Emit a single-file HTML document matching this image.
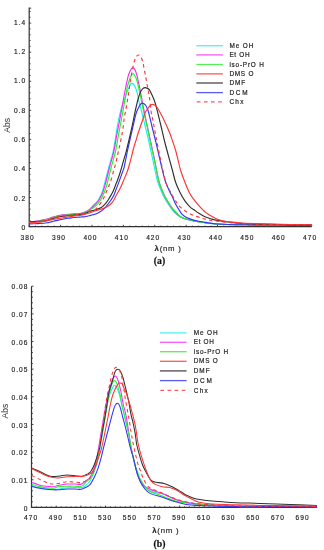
<!DOCTYPE html>
<html><head><meta charset="utf-8"><title>UV-Vis spectra</title>
<style>
html,body{margin:0;padding:0;background:#fff;}
body{width:324px;height:550px;overflow:hidden;}
svg{display:block;}
.tl{font-family:'Liberation Sans',Arial,sans-serif;font-size:7px;letter-spacing:0.7px;fill:#222;stroke:#222;stroke-width:0.2px;}
.tn{font-family:'Liberation Sans',Arial,sans-serif;font-size:7.5px;letter-spacing:1.14px;fill:#222;stroke:#222;stroke-width:0.18px;}
.tx{font-family:'Liberation Sans',Arial,sans-serif;font-size:7.8px;letter-spacing:0.75px;fill:#222;stroke:#222;stroke-width:0.15px;}
.lg{font-family:'Liberation Sans',Arial,sans-serif;font-size:7px;font-size:7.3px;fill:#222;stroke:#222;stroke-width:0.2px;}
.abs{font-family:'Liberation Sans',Arial,sans-serif;font-size:8.6px;fill:#333;}
.cap{font-family:'Liberation Serif','Times New Roman',serif;font-size:9.7px;font-weight:bold;fill:#111;stroke:#111;stroke-width:0.2px;}
.ax{fill:none;stroke:#333;stroke-width:1.2;}
.tk{fill:none;stroke:#333;stroke-width:0.9;}
</style></head><body>
<svg width="324" height="550" viewBox="0 0 324 550">
<rect width="324" height="550" fill="#fff"/>
<path d="M29.2,7.6 V226.6 H311.7" class="ax"/>
<path d="M29.2,226.60 h2.0 M29.2,197.53 h2.0 M29.2,168.46 h2.0 M29.2,139.39 h2.0 M29.2,110.32 h2.0 M29.2,81.25 h2.0 M29.2,52.18 h2.0 M29.2,23.11 h2.0 M29.2,8.20 h2.0 M29.2,220.79 h1.4 M29.2,214.97 h1.4 M29.2,209.16 h1.4 M29.2,203.34 h1.4 M29.2,191.72 h1.4 M29.2,185.90 h1.4 M29.2,180.09 h1.4 M29.2,174.27 h1.4 M29.2,162.65 h1.4 M29.2,156.83 h1.4 M29.2,151.02 h1.4 M29.2,145.20 h1.4 M29.2,133.58 h1.4 M29.2,127.76 h1.4 M29.2,121.95 h1.4 M29.2,116.13 h1.4 M29.2,104.51 h1.4 M29.2,98.69 h1.4 M29.2,92.88 h1.4 M29.2,87.06 h1.4 M29.2,75.44 h1.4 M29.2,69.62 h1.4 M29.2,63.81 h1.4 M29.2,57.99 h1.4 M29.2,46.37 h1.4 M29.2,40.55 h1.4 M29.2,34.74 h1.4 M29.2,28.92 h1.4 M29.2,17.30 h1.4 M29.2,11.48 h1.4 M29.20,226.6 v-1.8 M60.59,226.6 v-1.8 M91.98,226.6 v-1.8 M123.37,226.6 v-1.8 M154.76,226.6 v-1.8 M186.14,226.6 v-1.8 M217.53,226.6 v-1.8 M248.92,226.6 v-1.8 M280.31,226.6 v-1.8 M311.70,226.6 v-1.8 M35.48,226.6 v-1.0 M41.76,226.6 v-1.0 M48.03,226.6 v-1.0 M54.31,226.6 v-1.0 M66.87,226.6 v-1.0 M73.14,226.6 v-1.0 M79.42,226.6 v-1.0 M85.70,226.6 v-1.0 M98.26,226.6 v-1.0 M104.53,226.6 v-1.0 M110.81,226.6 v-1.0 M117.09,226.6 v-1.0 M129.64,226.6 v-1.0 M135.92,226.6 v-1.0 M142.20,226.6 v-1.0 M148.48,226.6 v-1.0 M161.03,226.6 v-1.0 M167.31,226.6 v-1.0 M173.59,226.6 v-1.0 M179.87,226.6 v-1.0 M192.42,226.6 v-1.0 M198.70,226.6 v-1.0 M204.98,226.6 v-1.0 M211.26,226.6 v-1.0 M223.81,226.6 v-1.0 M230.09,226.6 v-1.0 M236.37,226.6 v-1.0 M242.64,226.6 v-1.0 M255.20,226.6 v-1.0 M261.48,226.6 v-1.0 M267.76,226.6 v-1.0 M274.03,226.6 v-1.0 M286.59,226.6 v-1.0 M292.87,226.6 v-1.0 M299.14,226.6 v-1.0 M305.42,226.6 v-1.0" class="tk"/>
<text transform="translate(26.1,230.0) scale(0.88,1)" class="tn" text-anchor="end">0</text>
<text transform="translate(26.1,200.6) scale(0.88,1)" class="tn" text-anchor="end">0.2</text>
<text transform="translate(26.1,171.3) scale(0.88,1)" class="tn" text-anchor="end">0.4</text>
<text transform="translate(26.1,141.9) scale(0.88,1)" class="tn" text-anchor="end">0.6</text>
<text transform="translate(26.1,112.6) scale(0.88,1)" class="tn" text-anchor="end">0.8</text>
<text transform="translate(26.1,83.2) scale(0.88,1)" class="tn" text-anchor="end">1.0</text>
<text transform="translate(26.1,53.8) scale(0.88,1)" class="tn" text-anchor="end">1.2</text>
<text transform="translate(26.1,24.5) scale(0.88,1)" class="tn" text-anchor="end">1.4</text>
<text transform="translate(27.6,239.5) scale(0.88,1)" class="tn" text-anchor="middle">380</text>
<text transform="translate(59.0,239.5) scale(0.88,1)" class="tn" text-anchor="middle">390</text>
<text transform="translate(90.4,239.5) scale(0.88,1)" class="tn" text-anchor="middle">400</text>
<text transform="translate(121.8,239.5) scale(0.88,1)" class="tn" text-anchor="middle">410</text>
<text transform="translate(153.2,239.5) scale(0.88,1)" class="tn" text-anchor="middle">420</text>
<text transform="translate(184.5,239.5) scale(0.88,1)" class="tn" text-anchor="middle">430</text>
<text transform="translate(215.9,239.5) scale(0.88,1)" class="tn" text-anchor="middle">440</text>
<text transform="translate(247.3,239.5) scale(0.88,1)" class="tn" text-anchor="middle">450</text>
<text transform="translate(278.7,239.5) scale(0.88,1)" class="tn" text-anchor="middle">460</text>
<text transform="translate(310.1,239.5) scale(0.88,1)" class="tn" text-anchor="middle">470</text>
<text transform="translate(9.9,125.3) rotate(-90)" class="abs" text-anchor="middle">Abs</text>
<text x="154.6" y="251.0" class="tx"><tspan font-weight="bold">λ</tspan>(nm )</text>
<text x="159.5" y="264.1" class="cap" text-anchor="middle">(a)</text>
<line x1="196.3" y1="45.7" x2="222.9" y2="45.7" stroke="#50f0f0" stroke-width="1.3"/>
<text transform="translate(229.4,47.8) scale(0.88,1)" class="lg" textLength="27.16" lengthAdjust="spacing">Me OH</text>
<line x1="196.3" y1="54.9" x2="222.9" y2="54.9" stroke="#f858f8" stroke-width="1.3"/>
<text transform="translate(229.4,57.0) scale(0.88,1)" class="lg" textLength="22.95" lengthAdjust="spacing">Et OH</text>
<line x1="196.3" y1="64.5" x2="222.9" y2="64.5" stroke="#58ee58" stroke-width="1.3"/>
<text transform="translate(229.4,66.6) scale(0.88,1)" class="lg" textLength="39.09" lengthAdjust="spacing">iso-PrO H</text>
<line x1="196.3" y1="73.9" x2="222.9" y2="73.9" stroke="#f85c5c" stroke-width="1.3"/>
<text transform="translate(229.4,76.0) scale(0.88,1)" class="lg" textLength="27.27" lengthAdjust="spacing">DMS O</text>
<line x1="196.3" y1="83.0" x2="222.9" y2="83.0" stroke="#4a4a4a" stroke-width="1.3"/>
<text transform="translate(229.4,85.1) scale(0.88,1)" class="lg" textLength="18.07" lengthAdjust="spacing">DMF</text>
<line x1="196.3" y1="92.6" x2="222.9" y2="92.6" stroke="#5a5af4" stroke-width="1.3"/>
<text transform="translate(229.4,94.7) scale(0.88,1)" class="lg" textLength="20.68" lengthAdjust="spacing">DCM</text>
<line x1="196.8" y1="101.8" x2="222.9" y2="101.8" stroke="#f85c5c" stroke-width="1.3" stroke-dasharray="3.7,3.4"/>
<text transform="translate(229.4,103.9) scale(0.88,1)" class="lg" textLength="16.02" lengthAdjust="spacing">Chx</text>
<g fill="none" stroke-width="1.15"><path d="M29.20,222.30 C30.67,222.13 35.53,221.68 38.00,221.30 C40.47,220.92 42.33,220.35 44.00,220.00 C45.67,219.65 46.67,219.57 48.00,219.20 C49.33,218.83 50.67,218.23 52.00,217.80 C53.33,217.37 54.67,216.95 56.00,216.60 C57.33,216.25 58.67,215.95 60.00,215.70 C61.33,215.45 62.67,215.28 64.00,215.10 C65.33,214.92 66.67,214.73 68.00,214.60 C69.33,214.47 70.50,214.40 72.00,214.30 C73.50,214.20 75.50,214.12 77.00,214.00 C78.50,213.88 79.67,213.90 81.00,213.60 C82.33,213.30 83.62,212.80 85.00,212.20 C86.38,211.60 87.80,211.30 89.30,210.00 C90.80,208.70 92.53,206.02 94.00,204.40 C95.47,202.78 96.75,202.33 98.10,200.30 C99.45,198.27 100.98,195.17 102.10,192.20 C103.22,189.23 103.67,186.70 104.80,182.50 C105.93,178.30 107.53,172.08 108.90,167.00 C110.27,161.92 111.85,157.17 113.00,152.00 C114.15,146.83 114.88,141.33 115.80,136.00 C116.72,130.67 117.55,124.67 118.50,120.00 C119.45,115.33 120.50,111.42 121.50,108.00 C122.50,104.58 123.55,102.25 124.50,99.50 C125.45,96.75 126.38,93.67 127.20,91.50 C128.02,89.33 128.73,87.87 129.40,86.50 C130.07,85.13 130.57,83.72 131.20,83.30 C131.83,82.88 132.58,83.45 133.20,84.00 C133.82,84.55 134.27,85.27 134.90,86.60 C135.53,87.93 136.38,89.77 137.00,92.00 C137.62,94.23 138.10,97.67 138.60,100.00 C139.10,102.33 139.52,104.17 140.00,106.00 C140.48,107.83 140.67,107.75 141.50,111.00 C142.33,114.25 143.83,120.67 145.00,125.50 C146.17,130.33 147.33,134.92 148.50,140.00 C149.67,145.08 150.85,150.67 152.00,156.00 C153.15,161.33 154.48,167.83 155.40,172.00 C156.32,176.17 156.70,178.25 157.50,181.00 C158.30,183.75 159.20,186.00 160.20,188.50 C161.20,191.00 162.37,193.72 163.50,196.00 C164.63,198.28 165.92,200.43 167.00,202.20 C168.08,203.97 168.80,204.97 170.00,206.60 C171.20,208.23 172.48,210.27 174.20,212.00 C175.92,213.73 178.33,215.80 180.30,217.00 C182.27,218.20 183.93,218.58 186.00,219.20 C188.07,219.82 189.53,220.10 192.70,220.70 C195.87,221.30 200.90,222.23 205.00,222.80 C209.10,223.37 210.63,223.77 217.30,224.10 C223.97,224.43 234.55,224.65 245.00,224.80 C255.45,224.95 268.88,224.93 280.00,225.00 C291.12,225.07 306.42,225.17 311.70,225.20" stroke="#18f0f0"/>
<path d="M29.20,222.00 C30.67,221.80 35.53,221.20 38.00,220.80 C40.47,220.40 42.33,219.93 44.00,219.60 C45.67,219.27 46.67,219.17 48.00,218.80 C49.33,218.43 50.67,217.82 52.00,217.40 C53.33,216.98 54.67,216.63 56.00,216.30 C57.33,215.97 58.67,215.65 60.00,215.40 C61.33,215.15 62.67,214.98 64.00,214.80 C65.33,214.62 66.67,214.43 68.00,214.30 C69.33,214.17 70.50,214.10 72.00,214.00 C73.50,213.90 75.50,213.80 77.00,213.70 C78.50,213.60 79.67,213.68 81.00,213.40 C82.33,213.12 83.62,212.62 85.00,212.00 C86.38,211.38 87.68,210.87 89.30,209.70 C90.92,208.53 93.12,206.57 94.70,205.00 C96.28,203.43 97.45,202.43 98.80,200.30 C100.15,198.17 101.67,195.08 102.80,192.20 C103.93,189.32 104.47,187.20 105.60,183.00 C106.73,178.80 108.25,172.17 109.60,167.00 C110.95,161.83 112.53,157.17 113.70,152.00 C114.87,146.83 115.60,141.33 116.60,136.00 C117.60,130.67 118.70,125.33 119.70,120.00 C120.70,114.67 121.62,109.33 122.60,104.00 C123.58,98.67 124.67,92.65 125.60,88.00 C126.53,83.35 127.38,79.05 128.20,76.10 C129.02,73.15 129.70,71.72 130.50,70.30 C131.30,68.88 132.20,67.55 133.00,67.60 C133.80,67.65 134.62,69.18 135.30,70.60 C135.98,72.02 136.58,74.20 137.10,76.10 C137.62,78.00 137.93,79.85 138.40,82.00 C138.87,84.15 139.40,86.53 139.90,89.00 C140.40,91.47 140.78,93.52 141.40,96.80 C142.02,100.08 142.63,103.92 143.60,108.70 C144.57,113.48 146.00,119.95 147.20,125.50 C148.40,131.05 149.67,136.75 150.80,142.00 C151.93,147.25 152.98,152.00 154.00,157.00 C155.02,162.00 156.10,168.00 156.90,172.00 C157.70,176.00 158.05,178.25 158.80,181.00 C159.55,183.75 160.45,186.00 161.40,188.50 C162.35,191.00 163.43,193.78 164.50,196.00 C165.57,198.22 166.80,200.13 167.80,201.80 C168.80,203.47 169.37,204.38 170.50,206.00 C171.63,207.62 172.97,209.72 174.60,211.50 C176.23,213.28 178.40,215.45 180.30,216.70 C182.20,217.95 183.93,218.35 186.00,219.00 C188.07,219.65 189.53,219.98 192.70,220.60 C195.87,221.22 200.90,222.13 205.00,222.70 C209.10,223.27 210.63,223.65 217.30,224.00 C223.97,224.35 234.55,224.63 245.00,224.80 C255.45,224.97 268.88,224.93 280.00,225.00 C291.12,225.07 306.42,225.17 311.70,225.20" stroke="#f828f8"/>
<path d="M29.20,222.30 C30.67,222.17 35.53,221.85 38.00,221.50 C40.47,221.15 42.33,220.55 44.00,220.20 C45.67,219.85 46.67,219.77 48.00,219.40 C49.33,219.03 50.67,218.42 52.00,218.00 C53.33,217.58 54.67,217.23 56.00,216.90 C57.33,216.57 58.67,216.25 60.00,216.00 C61.33,215.75 62.67,215.58 64.00,215.40 C65.33,215.22 66.67,215.03 68.00,214.90 C69.33,214.77 70.50,214.72 72.00,214.60 C73.50,214.48 75.50,214.33 77.00,214.20 C78.50,214.07 79.67,214.08 81.00,213.80 C82.33,213.52 83.62,213.05 85.00,212.50 C86.38,211.95 87.97,211.27 89.30,210.50 C90.63,209.73 91.98,208.58 93.00,207.90 C94.02,207.22 94.10,207.77 95.40,206.40 C96.70,205.03 99.22,202.30 100.80,199.70 C102.38,197.10 103.82,193.58 104.90,190.80 C105.98,188.02 106.23,186.97 107.30,183.00 C108.37,179.03 109.95,172.17 111.30,167.00 C112.65,161.83 114.23,157.17 115.40,152.00 C116.57,146.83 117.32,141.33 118.30,136.00 C119.28,130.67 120.32,125.33 121.30,120.00 C122.28,114.67 123.23,109.33 124.20,104.00 C125.17,98.67 126.32,91.75 127.10,88.00 C127.88,84.25 128.28,83.40 128.90,81.50 C129.52,79.60 130.12,77.90 130.80,76.60 C131.48,75.30 132.25,73.72 133.00,73.70 C133.75,73.68 134.58,75.12 135.30,76.50 C136.02,77.88 136.68,79.92 137.30,82.00 C137.92,84.08 138.43,86.53 139.00,89.00 C139.57,91.47 139.93,93.05 140.70,96.80 C141.47,100.55 142.55,106.63 143.60,111.50 C144.65,116.37 145.92,121.08 147.00,126.00 C148.08,130.92 149.02,135.92 150.10,141.00 C151.18,146.08 152.37,151.33 153.50,156.50 C154.63,161.67 156.02,167.92 156.90,172.00 C157.78,176.08 158.05,178.25 158.80,181.00 C159.55,183.75 160.45,186.08 161.40,188.50 C162.35,190.92 163.47,193.43 164.50,195.50 C165.53,197.57 166.60,199.23 167.60,200.90 C168.60,202.57 169.37,203.90 170.50,205.50 C171.63,207.10 172.77,208.67 174.40,210.50 C176.03,212.33 178.37,215.08 180.30,216.50 C182.23,217.92 183.93,218.32 186.00,219.00 C188.07,219.68 189.53,219.98 192.70,220.60 C195.87,221.22 200.90,222.13 205.00,222.70 C209.10,223.27 210.63,223.65 217.30,224.00 C223.97,224.35 234.55,224.63 245.00,224.80 C255.45,224.97 268.88,224.93 280.00,225.00 C291.12,225.07 306.42,225.17 311.70,225.20" stroke="#28f028"/>
<path d="M29.20,223.90 C30.67,223.85 35.53,223.70 38.00,223.60 C40.47,223.50 42.33,223.47 44.00,223.30 C45.67,223.13 46.67,222.88 48.00,222.60 C49.33,222.32 50.67,221.93 52.00,221.60 C53.33,221.27 54.67,220.90 56.00,220.60 C57.33,220.30 58.67,220.07 60.00,219.80 C61.33,219.53 62.67,219.25 64.00,219.00 C65.33,218.75 66.67,218.50 68.00,218.30 C69.33,218.10 70.50,217.97 72.00,217.80 C73.50,217.63 75.50,217.43 77.00,217.30 C78.50,217.17 79.67,217.10 81.00,217.00 C82.33,216.90 83.62,216.92 85.00,216.70 C86.38,216.48 87.97,216.02 89.30,215.70 C90.63,215.38 91.63,215.22 93.00,214.80 C94.37,214.38 95.97,213.93 97.50,213.20 C99.03,212.47 100.75,211.55 102.20,210.40 C103.65,209.25 104.85,207.87 106.20,206.30 C107.55,204.73 109.05,202.78 110.30,201.00 C111.55,199.22 112.72,197.60 113.70,195.60 C114.68,193.60 115.40,191.08 116.20,189.00 C117.00,186.92 117.45,185.93 118.50,183.10 C119.55,180.27 121.55,174.72 122.50,172.00 C123.45,169.28 123.38,170.28 124.20,166.80 C125.02,163.32 126.32,156.15 127.40,151.10 C128.48,146.05 129.57,141.52 130.70,136.50 C131.83,131.48 133.28,124.90 134.20,121.00 C135.12,117.10 135.50,115.28 136.20,113.10 C136.90,110.92 137.73,109.32 138.40,107.90 C139.07,106.48 139.58,105.40 140.20,104.60 C140.82,103.80 141.47,103.23 142.10,103.10 C142.73,102.97 143.37,103.37 144.00,103.80 C144.63,104.23 145.32,104.83 145.90,105.70 C146.48,106.57 147.02,107.77 147.50,109.00 C147.98,110.23 148.05,110.18 148.80,113.10 C149.55,116.02 150.87,121.85 152.00,126.50 C153.13,131.15 154.40,136.00 155.60,141.00 C156.80,146.00 158.03,151.50 159.20,156.50 C160.37,161.50 161.52,166.70 162.60,171.00 C163.68,175.30 164.47,178.77 165.70,182.30 C166.93,185.83 168.87,189.75 170.00,192.20 C171.13,194.65 171.62,195.12 172.50,197.00 C173.38,198.88 174.27,201.45 175.30,203.50 C176.33,205.55 177.58,207.52 178.70,209.30 C179.82,211.08 180.70,212.82 182.00,214.20 C183.30,215.58 184.83,216.70 186.50,217.60 C188.17,218.50 189.93,218.98 192.00,219.60 C194.07,220.22 196.23,220.78 198.90,221.30 C201.57,221.82 204.93,222.25 208.00,222.70 C211.07,223.15 211.13,223.65 217.30,224.00 C223.47,224.35 234.55,224.63 245.00,224.80 C255.45,224.97 268.88,224.93 280.00,225.00 C291.12,225.07 306.42,225.17 311.70,225.20" stroke="#3434f8"/>
<path d="M29.20,221.50 C30.67,221.50 35.53,221.58 38.00,221.50 C40.47,221.42 42.33,221.22 44.00,221.00 C45.67,220.78 46.67,220.57 48.00,220.20 C49.33,219.83 50.67,219.22 52.00,218.80 C53.33,218.38 54.67,218.03 56.00,217.70 C57.33,217.37 58.67,217.05 60.00,216.80 C61.33,216.55 62.67,216.38 64.00,216.20 C65.33,216.02 66.67,215.85 68.00,215.70 C69.33,215.55 70.50,215.43 72.00,215.30 C73.50,215.17 75.50,215.07 77.00,214.90 C78.50,214.73 79.67,214.55 81.00,214.30 C82.33,214.05 83.62,213.85 85.00,213.40 C86.38,212.95 87.80,212.13 89.30,211.60 C90.80,211.07 92.08,210.83 94.00,210.20 C95.92,209.57 98.88,208.88 100.80,207.80 C102.72,206.72 104.03,205.40 105.50,203.70 C106.97,202.00 108.35,199.63 109.60,197.60 C110.85,195.57 111.98,193.65 113.00,191.50 C114.02,189.35 114.97,186.53 115.70,184.70 C116.43,182.87 116.63,182.62 117.40,180.50 C118.17,178.38 119.25,175.40 120.30,172.00 C121.35,168.60 122.70,163.58 123.70,160.10 C124.70,156.62 125.28,155.03 126.30,151.10 C127.32,147.17 128.65,141.52 129.80,136.50 C130.95,131.48 132.32,125.15 133.20,121.00 C134.08,116.85 134.53,114.27 135.10,111.60 C135.67,108.93 136.10,107.10 136.60,105.00 C137.10,102.90 137.42,101.23 138.10,99.00 C138.78,96.77 139.92,93.33 140.70,91.60 C141.48,89.87 142.07,89.27 142.80,88.60 C143.53,87.93 144.32,87.63 145.10,87.60 C145.88,87.57 146.75,87.98 147.50,88.40 C148.25,88.82 148.77,88.82 149.60,90.10 C150.43,91.38 151.58,94.00 152.50,96.10 C153.42,98.20 154.27,100.12 155.10,102.70 C155.93,105.28 156.52,107.72 157.50,111.60 C158.48,115.48 159.83,121.10 161.00,126.00 C162.17,130.90 163.25,136.00 164.50,141.00 C165.75,146.00 167.15,151.00 168.50,156.00 C169.85,161.00 171.42,166.62 172.60,171.00 C173.78,175.38 174.38,178.77 175.60,182.30 C176.82,185.83 178.35,189.10 179.90,192.20 C181.45,195.30 183.18,198.42 184.90,200.90 C186.62,203.38 188.68,205.62 190.20,207.10 C191.72,208.58 192.55,208.77 194.00,209.80 C195.45,210.83 197.07,212.13 198.90,213.30 C200.73,214.47 202.98,215.88 205.00,216.80 C207.02,217.72 208.95,218.20 211.00,218.80 C213.05,219.40 214.18,219.82 217.30,220.40 C220.42,220.98 225.08,221.78 229.70,222.30 C234.32,222.82 236.62,223.13 245.00,223.50 C253.38,223.87 268.88,224.25 280.00,224.50 C291.12,224.75 306.42,224.92 311.70,225.00" stroke="#303030"/>
<path d="M29.20,222.50 C30.67,222.47 35.53,222.50 38.00,222.30 C40.47,222.10 42.33,221.60 44.00,221.30 C45.67,221.00 46.67,220.78 48.00,220.50 C49.33,220.22 50.67,219.85 52.00,219.60 C53.33,219.35 54.67,219.22 56.00,219.00 C57.33,218.78 58.67,218.53 60.00,218.30 C61.33,218.07 62.67,217.82 64.00,217.60 C65.33,217.38 66.67,217.20 68.00,217.00 C69.33,216.80 70.50,216.62 72.00,216.40 C73.50,216.18 75.50,215.90 77.00,215.70 C78.50,215.50 79.67,215.45 81.00,215.20 C82.33,214.95 83.62,214.57 85.00,214.20 C86.38,213.83 87.80,213.50 89.30,213.00 C90.80,212.50 92.08,211.83 94.00,211.20 C95.92,210.57 98.53,210.00 100.80,209.20 C103.07,208.40 105.68,207.53 107.60,206.40 C109.52,205.27 110.95,204.08 112.30,202.40 C113.65,200.72 114.37,198.70 115.70,196.30 C117.03,193.90 118.97,190.70 120.30,188.00 C121.63,185.30 122.57,182.77 123.70,180.10 C124.83,177.43 126.12,174.68 127.10,172.00 C128.08,169.32 128.55,167.83 129.60,164.00 C130.65,160.17 132.37,152.83 133.40,149.00 C134.43,145.17 135.00,143.67 135.80,141.00 C136.60,138.33 137.07,136.50 138.20,133.00 C139.33,129.50 141.43,123.42 142.60,120.00 C143.77,116.58 144.17,114.63 145.20,112.50 C146.23,110.37 147.87,108.45 148.80,107.20 C149.73,105.95 150.18,105.48 150.80,105.00 C151.42,104.52 151.88,104.30 152.50,104.30 C153.12,104.30 153.88,104.65 154.50,105.00 C155.12,105.35 155.55,105.65 156.20,106.40 C156.85,107.15 157.35,107.73 158.40,109.50 C159.45,111.27 161.15,114.33 162.50,117.00 C163.85,119.67 165.25,122.72 166.50,125.50 C167.75,128.28 169.00,131.12 170.00,133.70 C171.00,136.28 171.58,138.28 172.50,141.00 C173.42,143.72 174.58,146.87 175.50,150.00 C176.42,153.13 177.17,156.47 178.00,159.80 C178.83,163.13 179.35,166.25 180.50,170.00 C181.65,173.75 183.35,178.38 184.90,182.30 C186.45,186.22 188.28,190.62 189.80,193.50 C191.32,196.38 192.63,197.75 194.00,199.60 C195.37,201.45 196.57,202.93 198.00,204.60 C199.43,206.27 201.27,208.27 202.60,209.60 C203.93,210.93 204.57,211.52 206.00,212.60 C207.43,213.68 209.32,215.00 211.20,216.10 C213.08,217.20 215.25,218.38 217.30,219.20 C219.35,220.02 220.40,220.47 223.50,221.00 C226.60,221.53 232.32,222.02 235.90,222.40 C239.48,222.78 237.65,222.98 245.00,223.30 C252.35,223.62 268.88,224.05 280.00,224.30 C291.12,224.55 306.42,224.72 311.70,224.80" stroke="#ff3434"/>
<path d="M29.20,222.00 C30.67,221.97 35.53,222.03 38.00,221.80 C40.47,221.57 42.33,220.93 44.00,220.60 C45.67,220.27 46.67,220.17 48.00,219.80 C49.33,219.43 50.67,218.82 52.00,218.40 C53.33,217.98 54.67,217.63 56.00,217.30 C57.33,216.97 58.67,216.65 60.00,216.40 C61.33,216.15 62.67,215.98 64.00,215.80 C65.33,215.62 66.67,215.43 68.00,215.30 C69.33,215.17 70.50,215.12 72.00,215.00 C73.50,214.88 75.50,214.77 77.00,214.60 C78.50,214.43 79.67,214.27 81.00,214.00 C82.33,213.73 83.62,213.45 85.00,213.00 C86.38,212.55 87.68,211.83 89.30,211.30 C90.92,210.77 93.23,210.62 94.70,209.80 C96.17,208.98 96.75,208.08 98.10,206.40 C99.45,204.72 101.45,202.07 102.80,199.70 C104.15,197.33 105.12,194.70 106.20,192.20 C107.28,189.70 108.42,186.95 109.30,184.70 C110.18,182.45 110.77,181.07 111.50,178.70 C112.23,176.33 113.02,172.97 113.70,170.50 C114.38,168.03 114.97,166.40 115.60,163.90 C116.23,161.40 116.93,158.00 117.50,155.50 C118.07,153.00 118.52,151.12 119.00,148.90 C119.48,146.68 119.92,144.55 120.40,142.20 C120.88,139.85 121.45,137.27 121.90,134.80 C122.35,132.33 122.75,129.95 123.10,127.40 C123.45,124.85 123.63,122.00 124.00,119.50 C124.37,117.00 124.85,114.82 125.30,112.40 C125.75,109.98 126.27,107.47 126.70,105.00 C127.13,102.53 127.48,100.18 127.90,97.60 C128.32,95.02 128.78,92.27 129.20,89.50 C129.62,86.73 130.03,83.42 130.40,81.00 C130.77,78.58 131.02,77.17 131.40,75.00 C131.78,72.83 132.20,70.33 132.70,68.00 C133.20,65.67 133.78,62.90 134.40,61.00 C135.02,59.10 135.70,57.60 136.40,56.60 C137.10,55.60 137.88,54.97 138.60,55.00 C139.32,55.03 140.02,55.68 140.70,56.80 C141.38,57.92 142.13,59.72 142.70,61.70 C143.27,63.68 143.62,66.30 144.10,68.70 C144.58,71.10 145.13,73.63 145.60,76.10 C146.07,78.57 146.43,80.92 146.90,83.50 C147.37,86.08 147.95,89.13 148.40,91.60 C148.85,94.07 149.17,95.07 149.60,98.30 C150.03,101.53 150.47,107.40 151.00,111.00 C151.53,114.60 152.25,117.10 152.80,119.90 C153.35,122.70 153.80,125.17 154.30,127.80 C154.80,130.43 155.35,133.33 155.80,135.70 C156.25,138.07 156.30,138.45 157.00,142.00 C157.70,145.55 159.00,152.17 160.00,157.00 C161.00,161.83 161.95,166.57 163.00,171.00 C164.05,175.43 164.92,179.85 166.30,183.60 C167.68,187.35 169.75,190.62 171.30,193.50 C172.85,196.38 174.15,198.68 175.60,200.90 C177.05,203.12 177.97,204.83 180.00,206.80 C182.03,208.77 185.07,211.10 187.80,212.70 C190.53,214.30 193.73,215.38 196.40,216.40 C199.07,217.42 201.33,218.13 203.80,218.80 C206.27,219.47 206.88,219.77 211.20,220.40 C215.52,221.03 224.07,222.03 229.70,222.60 C235.33,223.17 236.62,223.47 245.00,223.80 C253.38,224.13 268.88,224.40 280.00,224.60 C291.12,224.80 306.42,224.93 311.70,225.00" stroke="#ff3434" stroke-dasharray="3.5,3.2"/></g>
<path d="M31.5,286.2 V507.4 H317.2" class="ax"/>
<path d="M31.5,507.40 h2.0 M31.5,479.75 h2.0 M31.5,452.10 h2.0 M31.5,424.45 h2.0 M31.5,396.80 h2.0 M31.5,369.15 h2.0 M31.5,341.50 h2.0 M31.5,313.85 h2.0 M31.5,286.20 h2.0 M31.5,501.87 h1.4 M31.5,496.34 h1.4 M31.5,490.81 h1.4 M31.5,485.28 h1.4 M31.5,474.22 h1.4 M31.5,468.69 h1.4 M31.5,463.16 h1.4 M31.5,457.63 h1.4 M31.5,446.57 h1.4 M31.5,441.04 h1.4 M31.5,435.51 h1.4 M31.5,429.98 h1.4 M31.5,418.92 h1.4 M31.5,413.39 h1.4 M31.5,407.86 h1.4 M31.5,402.33 h1.4 M31.5,391.27 h1.4 M31.5,385.74 h1.4 M31.5,380.21 h1.4 M31.5,374.68 h1.4 M31.5,363.62 h1.4 M31.5,358.09 h1.4 M31.5,352.56 h1.4 M31.5,347.03 h1.4 M31.5,335.97 h1.4 M31.5,330.44 h1.4 M31.5,324.91 h1.4 M31.5,319.38 h1.4 M31.5,308.32 h1.4 M31.5,302.79 h1.4 M31.5,297.26 h1.4 M31.5,291.73 h1.4 M31.50,507.4 v-1.8 M56.18,507.4 v-1.8 M80.86,507.4 v-1.8 M105.54,507.4 v-1.8 M130.22,507.4 v-1.8 M154.90,507.4 v-1.8 M179.58,507.4 v-1.8 M204.26,507.4 v-1.8 M228.94,507.4 v-1.8 M253.62,507.4 v-1.8 M278.30,507.4 v-1.8 M302.98,507.4 v-1.8 M36.44,507.4 v-1.0 M41.37,507.4 v-1.0 M46.31,507.4 v-1.0 M51.24,507.4 v-1.0 M61.12,507.4 v-1.0 M66.05,507.4 v-1.0 M70.99,507.4 v-1.0 M75.92,507.4 v-1.0 M85.80,507.4 v-1.0 M90.73,507.4 v-1.0 M95.67,507.4 v-1.0 M100.60,507.4 v-1.0 M110.48,507.4 v-1.0 M115.41,507.4 v-1.0 M120.35,507.4 v-1.0 M125.28,507.4 v-1.0 M135.16,507.4 v-1.0 M140.09,507.4 v-1.0 M145.03,507.4 v-1.0 M149.96,507.4 v-1.0 M159.84,507.4 v-1.0 M164.77,507.4 v-1.0 M169.71,507.4 v-1.0 M174.64,507.4 v-1.0 M184.52,507.4 v-1.0 M189.45,507.4 v-1.0 M194.39,507.4 v-1.0 M199.32,507.4 v-1.0 M209.20,507.4 v-1.0 M214.13,507.4 v-1.0 M219.07,507.4 v-1.0 M224.00,507.4 v-1.0 M233.88,507.4 v-1.0 M238.81,507.4 v-1.0 M243.75,507.4 v-1.0 M248.68,507.4 v-1.0 M258.56,507.4 v-1.0 M263.49,507.4 v-1.0 M268.43,507.4 v-1.0 M273.36,507.4 v-1.0 M283.24,507.4 v-1.0 M288.17,507.4 v-1.0 M293.11,507.4 v-1.0 M298.04,507.4 v-1.0 M307.92,507.4 v-1.0 M312.85,507.4 v-1.0" class="tk"/>
<text transform="translate(28.3,510.6) scale(0.88,1)" class="tn" text-anchor="end">0</text>
<text transform="translate(28.3,482.9) scale(0.88,1)" class="tn" text-anchor="end">0.01</text>
<text transform="translate(28.3,455.3) scale(0.88,1)" class="tn" text-anchor="end">0.02</text>
<text transform="translate(28.3,427.6) scale(0.88,1)" class="tn" text-anchor="end">0.03</text>
<text transform="translate(28.3,400.0) scale(0.88,1)" class="tn" text-anchor="end">0.04</text>
<text transform="translate(28.3,372.3) scale(0.88,1)" class="tn" text-anchor="end">0.05</text>
<text transform="translate(28.3,344.7) scale(0.88,1)" class="tn" text-anchor="end">0.06</text>
<text transform="translate(28.3,317.0) scale(0.88,1)" class="tn" text-anchor="end">0.07</text>
<text transform="translate(28.3,289.4) scale(0.88,1)" class="tn" text-anchor="end">0.08</text>
<text transform="translate(31.1,519.8) scale(0.88,1)" class="tn" text-anchor="middle">470</text>
<text transform="translate(55.8,519.8) scale(0.88,1)" class="tn" text-anchor="middle">490</text>
<text transform="translate(80.5,519.8) scale(0.88,1)" class="tn" text-anchor="middle">510</text>
<text transform="translate(105.1,519.8) scale(0.88,1)" class="tn" text-anchor="middle">530</text>
<text transform="translate(129.8,519.8) scale(0.88,1)" class="tn" text-anchor="middle">550</text>
<text transform="translate(154.5,519.8) scale(0.88,1)" class="tn" text-anchor="middle">570</text>
<text transform="translate(179.2,519.8) scale(0.88,1)" class="tn" text-anchor="middle">590</text>
<text transform="translate(203.9,519.8) scale(0.88,1)" class="tn" text-anchor="middle">610</text>
<text transform="translate(228.5,519.8) scale(0.88,1)" class="tn" text-anchor="middle">630</text>
<text transform="translate(253.2,519.8) scale(0.88,1)" class="tn" text-anchor="middle">650</text>
<text transform="translate(277.9,519.8) scale(0.88,1)" class="tn" text-anchor="middle">670</text>
<text transform="translate(302.6,519.8) scale(0.88,1)" class="tn" text-anchor="middle">690</text>
<text transform="translate(7.9,411) rotate(-90)" class="abs" text-anchor="middle">Abs</text>
<text x="152.2" y="533.2" class="tx"><tspan font-weight="bold">λ</tspan>(nm )</text>
<text x="159.5" y="546.9" class="cap" text-anchor="middle">(b)</text>
<line x1="159.9" y1="332.9" x2="186.6" y2="332.9" stroke="#50f0f0" stroke-width="1.3"/>
<text transform="translate(193.7,335.0) scale(0.88,1)" class="lg" textLength="27.16" lengthAdjust="spacing">Me OH</text>
<line x1="159.9" y1="342.3" x2="186.6" y2="342.3" stroke="#f858f8" stroke-width="1.3"/>
<text transform="translate(193.7,344.4) scale(0.88,1)" class="lg" textLength="22.95" lengthAdjust="spacing">Et OH</text>
<line x1="159.9" y1="351.7" x2="186.6" y2="351.7" stroke="#58ee58" stroke-width="1.3"/>
<text transform="translate(193.7,353.8) scale(0.88,1)" class="lg" textLength="39.09" lengthAdjust="spacing">iso-PrO H</text>
<line x1="159.9" y1="361.3" x2="186.6" y2="361.3" stroke="#f85c5c" stroke-width="1.3"/>
<text transform="translate(193.7,363.4) scale(0.88,1)" class="lg" textLength="27.27" lengthAdjust="spacing">DMS O</text>
<line x1="159.9" y1="370.9" x2="186.6" y2="370.9" stroke="#4a4a4a" stroke-width="1.3"/>
<text transform="translate(193.7,373.0) scale(0.88,1)" class="lg" textLength="18.07" lengthAdjust="spacing">DMF</text>
<line x1="159.9" y1="380.6" x2="186.6" y2="380.6" stroke="#5a5af4" stroke-width="1.3"/>
<text transform="translate(193.7,382.7) scale(0.88,1)" class="lg" textLength="20.68" lengthAdjust="spacing">DCM</text>
<line x1="160.4" y1="390.4" x2="186.6" y2="390.4" stroke="#f85c5c" stroke-width="1.3" stroke-dasharray="3.7,3.4"/>
<text transform="translate(193.7,392.5) scale(0.88,1)" class="lg" textLength="16.02" lengthAdjust="spacing">Chx</text>
<g fill="none" stroke-width="1.05"><path d="M31.80,485.60 C32.83,485.92 35.98,487.03 38.00,487.50 C40.02,487.97 41.38,488.12 43.90,488.40 C46.42,488.68 50.42,489.12 53.10,489.20 C55.78,489.28 57.63,489.15 60.00,488.90 C62.37,488.65 64.80,487.93 67.30,487.70 C69.80,487.47 72.53,487.53 75.00,487.50 C77.47,487.47 80.27,487.88 82.10,487.50 C83.93,487.12 84.93,485.95 86.00,485.20 C87.07,484.45 87.67,484.03 88.50,483.00 C89.33,481.97 90.02,480.93 91.00,479.00 C91.98,477.07 93.30,474.40 94.40,471.40 C95.50,468.40 96.73,464.40 97.60,461.00 C98.47,457.60 98.98,454.33 99.60,451.00 C100.22,447.67 100.73,444.33 101.30,441.00 C101.87,437.67 102.42,434.50 103.00,431.00 C103.58,427.50 104.23,423.50 104.80,420.00 C105.37,416.50 105.87,413.25 106.40,410.00 C106.93,406.75 107.40,403.23 108.00,400.50 C108.60,397.77 109.33,395.55 110.00,393.60 C110.67,391.65 111.47,390.03 112.00,388.80 C112.53,387.57 112.80,386.80 113.20,386.20 C113.60,385.60 113.97,385.15 114.40,385.20 C114.83,385.25 115.15,385.47 115.80,386.50 C116.45,387.53 117.57,389.55 118.30,391.40 C119.03,393.25 119.60,395.33 120.20,397.60 C120.80,399.87 121.27,402.33 121.90,405.00 C122.53,407.67 123.25,410.43 124.00,413.60 C124.75,416.77 125.53,420.27 126.40,424.00 C127.27,427.73 128.47,432.27 129.20,436.00 C129.93,439.73 130.10,442.68 130.80,446.40 C131.50,450.12 132.62,455.03 133.40,458.30 C134.18,461.57 134.80,463.75 135.50,466.00 C136.20,468.25 136.57,468.98 137.60,471.80 C138.63,474.62 139.93,479.87 141.70,482.90 C143.47,485.93 145.98,488.40 148.20,490.00 C150.42,491.60 152.23,491.77 155.00,492.50 C157.77,493.23 160.90,493.08 164.80,494.40 C168.70,495.72 174.20,498.98 178.40,500.40 C182.60,501.82 180.40,501.92 190.00,502.90 C199.60,503.88 222.67,505.72 236.00,506.30 C249.33,506.88 256.50,506.37 270.00,506.40 C283.50,506.43 309.17,506.48 317.00,506.50" stroke="#18f0f0"/>
<path d="M31.80,482.40 C32.83,482.77 35.98,483.98 38.00,484.60 C40.02,485.22 41.38,485.73 43.90,486.10 C46.42,486.47 50.75,486.92 53.10,486.80 C55.45,486.68 55.63,485.87 58.00,485.40 C60.37,484.93 64.47,484.23 67.30,484.00 C70.13,483.77 72.70,483.97 75.00,484.00 C77.30,484.03 79.27,484.77 81.10,484.20 C82.93,483.63 84.55,481.67 86.00,480.60 C87.45,479.53 88.53,479.67 89.80,477.80 C91.07,475.93 92.45,472.72 93.60,469.40 C94.75,466.08 95.90,461.30 96.70,457.90 C97.50,454.50 97.82,452.32 98.40,449.00 C98.98,445.68 99.62,441.50 100.20,438.00 C100.78,434.50 101.33,431.33 101.90,428.00 C102.47,424.67 103.00,421.50 103.60,418.00 C104.20,414.50 104.93,410.17 105.50,407.00 C106.07,403.83 106.58,401.10 107.00,399.00 C107.42,396.90 107.50,396.40 108.00,394.40 C108.50,392.40 109.33,389.27 110.00,387.00 C110.67,384.73 111.37,382.42 112.00,380.80 C112.63,379.18 113.20,378.10 113.80,377.30 C114.40,376.50 115.05,375.88 115.60,376.00 C116.15,376.12 116.62,377.03 117.10,378.00 C117.58,378.97 117.98,380.08 118.50,381.80 C119.02,383.52 119.75,386.43 120.20,388.30 C120.65,390.17 120.90,391.45 121.20,393.00 C121.50,394.55 121.63,395.60 122.00,397.60 C122.37,399.60 122.80,402.33 123.40,405.00 C124.00,407.67 124.92,410.43 125.60,413.60 C126.28,416.77 126.90,420.27 127.50,424.00 C128.10,427.73 128.65,432.27 129.20,436.00 C129.75,439.73 130.10,442.73 130.80,446.40 C131.50,450.07 132.62,454.57 133.40,458.00 C134.18,461.43 134.83,464.23 135.50,467.00 C136.17,469.77 136.65,472.43 137.40,474.60 C138.15,476.77 138.97,478.20 140.00,480.00 C141.03,481.80 141.93,483.85 143.60,485.40 C145.27,486.95 146.88,487.93 150.00,489.30 C153.12,490.67 158.18,491.95 162.30,493.60 C166.42,495.25 170.75,497.77 174.70,499.20 C178.65,500.63 181.55,501.32 186.00,502.20 C190.45,503.08 193.07,503.87 201.40,504.50 C209.73,505.13 224.57,505.68 236.00,506.00 C247.43,506.32 256.50,506.32 270.00,506.40 C283.50,506.48 309.17,506.48 317.00,506.50" stroke="#f828f8"/>
<path d="M31.80,484.20 C32.83,484.53 35.98,485.65 38.00,486.20 C40.02,486.75 41.38,487.17 43.90,487.50 C46.42,487.83 50.75,488.32 53.10,488.20 C55.45,488.08 56.02,487.13 58.00,486.80 C59.98,486.47 62.68,486.32 65.00,486.20 C67.32,486.08 69.05,486.12 71.90,486.10 C74.75,486.08 79.75,486.82 82.10,486.10 C84.45,485.38 84.58,483.18 86.00,481.80 C87.42,480.42 89.20,479.87 90.60,477.80 C92.00,475.73 93.25,472.45 94.40,469.40 C95.55,466.35 96.67,462.90 97.50,459.50 C98.33,456.10 98.78,452.58 99.40,449.00 C100.02,445.42 100.62,441.50 101.20,438.00 C101.78,434.50 102.30,431.33 102.90,428.00 C103.50,424.67 104.17,421.33 104.80,418.00 C105.43,414.67 106.10,411.25 106.70,408.00 C107.30,404.75 107.80,401.58 108.40,398.50 C109.00,395.42 109.67,392.00 110.30,389.50 C110.93,387.00 111.58,385.00 112.20,383.50 C112.82,382.00 113.42,380.82 114.00,380.50 C114.58,380.18 115.18,381.02 115.70,381.60 C116.22,382.18 116.57,382.57 117.10,384.00 C117.63,385.43 118.28,387.93 118.90,390.20 C119.52,392.47 120.32,395.13 120.80,397.60 C121.28,400.07 121.27,402.33 121.80,405.00 C122.33,407.67 123.23,410.43 124.00,413.60 C124.77,416.77 125.53,420.27 126.40,424.00 C127.27,427.73 128.47,432.27 129.20,436.00 C129.93,439.73 130.12,442.65 130.80,446.40 C131.48,450.15 132.52,455.07 133.30,458.50 C134.08,461.93 134.78,464.42 135.50,467.00 C136.22,469.58 136.68,471.75 137.60,474.00 C138.52,476.25 139.68,478.33 141.00,480.50 C142.32,482.67 144.00,485.17 145.50,487.00 C147.00,488.83 147.20,490.00 150.00,491.50 C152.80,493.00 158.18,494.45 162.30,496.00 C166.42,497.55 170.08,499.55 174.70,500.80 C179.32,502.05 179.78,502.55 190.00,503.50 C200.22,504.45 222.67,506.00 236.00,506.50 C249.33,507.00 256.50,506.48 270.00,506.50 C283.50,506.52 309.17,506.58 317.00,506.60" stroke="#28f028"/>
<path d="M31.80,486.50 C32.83,486.73 35.98,487.50 38.00,487.90 C40.02,488.30 41.38,488.58 43.90,488.90 C46.42,489.22 50.75,489.65 53.10,489.80 C55.45,489.95 55.63,489.93 58.00,489.80 C60.37,489.67 64.47,489.12 67.30,489.00 C70.13,488.88 72.70,489.05 75.00,489.10 C77.30,489.15 79.27,489.62 81.10,489.30 C82.93,488.98 84.80,487.75 86.00,487.20 C87.20,486.65 87.53,486.55 88.30,486.00 C89.07,485.45 89.58,485.40 90.60,483.90 C91.62,482.40 93.13,479.68 94.40,477.00 C95.67,474.32 97.05,471.10 98.20,467.80 C99.35,464.50 100.40,460.58 101.30,457.20 C102.20,453.82 102.78,450.78 103.60,447.50 C104.42,444.22 105.33,440.83 106.20,437.50 C107.07,434.17 107.93,430.83 108.80,427.50 C109.67,424.17 110.55,420.65 111.40,417.50 C112.25,414.35 113.22,410.72 113.90,408.60 C114.58,406.48 114.95,405.70 115.50,404.80 C116.05,403.90 116.67,403.33 117.20,403.20 C117.73,403.07 118.17,403.20 118.70,404.00 C119.23,404.80 119.78,406.00 120.40,408.00 C121.02,410.00 121.67,413.20 122.40,416.00 C123.13,418.80 124.00,421.73 124.80,424.80 C125.60,427.87 126.40,431.07 127.20,434.40 C128.00,437.73 128.88,441.95 129.60,444.80 C130.32,447.65 130.87,449.32 131.50,451.50 C132.13,453.68 132.62,454.83 133.40,457.90 C134.18,460.97 135.12,466.05 136.20,469.90 C137.28,473.75 138.52,477.92 139.90,481.00 C141.28,484.08 142.82,486.33 144.50,488.40 C146.18,490.47 147.03,491.93 150.00,493.40 C152.97,494.87 158.18,495.83 162.30,497.20 C166.42,498.57 170.75,500.40 174.70,501.60 C178.65,502.80 181.78,503.75 186.00,504.40 C190.22,505.05 191.67,505.13 200.00,505.50 C208.33,505.87 224.33,506.42 236.00,506.60 C247.67,506.78 256.50,506.60 270.00,506.60 C283.50,506.60 309.17,506.60 317.00,506.60" stroke="#3434f8"/>
<path d="M31.60,468.00 C32.88,468.55 36.78,470.13 39.30,471.30 C41.82,472.47 44.55,474.12 46.70,475.00 C48.85,475.88 49.98,476.45 52.20,476.60 C54.42,476.75 57.48,476.17 60.00,475.90 C62.52,475.63 64.55,475.00 67.30,475.00 C70.05,475.00 74.03,475.70 76.50,475.90 C78.97,476.10 80.52,476.40 82.10,476.20 C83.68,476.00 84.97,475.13 86.00,474.70 C87.03,474.27 87.53,474.10 88.30,473.60 C89.07,473.10 89.72,472.92 90.60,471.70 C91.48,470.48 92.72,468.22 93.60,466.30 C94.48,464.38 95.13,462.48 95.90,460.20 C96.67,457.92 97.60,454.63 98.20,452.60 C98.80,450.57 98.98,450.43 99.50,448.00 C100.02,445.57 100.72,441.33 101.30,438.00 C101.88,434.67 102.42,431.33 103.00,428.00 C103.58,424.67 104.18,421.67 104.80,418.00 C105.42,414.33 106.03,410.17 106.70,406.00 C107.37,401.83 108.18,396.17 108.80,393.00 C109.42,389.83 109.87,388.77 110.40,387.00 C110.93,385.23 111.27,384.83 112.00,382.40 C112.73,379.97 114.10,374.47 114.80,372.40 C115.50,370.33 115.73,370.53 116.20,370.00 C116.67,369.47 117.13,369.27 117.60,369.20 C118.07,369.13 118.53,369.27 119.00,369.60 C119.47,369.93 119.92,370.38 120.40,371.20 C120.88,372.02 121.43,373.30 121.90,374.50 C122.37,375.70 122.58,376.15 123.20,378.40 C123.82,380.65 124.88,385.07 125.60,388.00 C126.32,390.93 126.97,393.67 127.50,396.00 C128.03,398.33 128.25,399.07 128.80,402.00 C129.35,404.93 130.13,410.33 130.80,413.60 C131.47,416.87 132.17,418.80 132.80,421.60 C133.43,424.40 134.12,427.83 134.60,430.40 C135.08,432.97 135.37,434.73 135.70,437.00 C136.03,439.27 136.05,441.28 136.60,444.00 C137.15,446.72 137.98,449.75 139.00,453.30 C140.02,456.85 141.32,461.75 142.70,465.30 C144.08,468.85 146.08,472.32 147.30,474.60 C148.52,476.88 149.13,477.88 150.00,479.00 C150.87,480.12 151.50,480.77 152.50,481.30 C153.50,481.83 153.95,481.80 156.00,482.20 C158.05,482.60 162.10,482.93 164.80,483.70 C167.50,484.47 169.52,485.45 172.20,486.80 C174.88,488.15 178.60,490.43 180.90,491.80 C183.20,493.17 184.48,494.18 186.00,495.00 C187.52,495.82 188.72,496.17 190.00,496.70 C191.28,497.23 192.03,497.73 193.70,498.20 C195.37,498.67 197.43,499.08 200.00,499.50 C202.57,499.92 205.43,500.32 209.10,500.70 C212.77,501.08 217.52,501.47 222.00,501.80 C226.48,502.13 229.67,502.43 236.00,502.70 C242.33,502.97 251.00,503.10 260.00,503.40 C269.00,503.70 280.50,504.15 290.00,504.50 C299.50,504.85 312.50,505.33 317.00,505.50" stroke="#303030"/>
<path d="M31.60,468.60 C32.88,469.20 36.48,470.87 39.30,472.20 C42.12,473.53 45.38,475.65 48.50,476.60 C51.62,477.55 54.87,477.87 58.00,477.90 C61.13,477.93 64.22,477.03 67.30,476.80 C70.38,476.57 74.03,476.53 76.50,476.50 C78.97,476.47 80.52,476.77 82.10,476.60 C83.68,476.43 84.97,475.83 86.00,475.50 C87.03,475.17 87.28,475.12 88.30,474.60 C89.32,474.08 90.95,473.65 92.10,472.40 C93.25,471.15 94.25,469.25 95.20,467.10 C96.15,464.95 96.92,462.05 97.80,459.50 C98.68,456.95 99.83,453.88 100.50,451.80 C101.17,449.72 101.22,449.47 101.80,447.00 C102.38,444.53 103.30,440.33 104.00,437.00 C104.70,433.67 105.33,430.33 106.00,427.00 C106.67,423.67 107.33,420.43 108.00,417.00 C108.67,413.57 109.33,409.63 110.00,406.40 C110.67,403.17 111.33,400.03 112.00,397.60 C112.67,395.17 113.30,393.57 114.00,391.80 C114.70,390.03 115.53,388.27 116.20,387.00 C116.87,385.73 117.43,384.85 118.00,384.20 C118.57,383.55 119.10,383.27 119.60,383.10 C120.10,382.93 120.57,383.05 121.00,383.20 C121.43,383.35 121.78,383.37 122.20,384.00 C122.62,384.63 122.82,385.47 123.50,387.00 C124.18,388.53 125.47,391.03 126.30,393.20 C127.13,395.37 127.88,398.03 128.50,400.00 C129.12,401.97 129.35,402.73 130.00,405.00 C130.65,407.27 131.60,410.57 132.40,413.60 C133.20,416.63 134.17,420.30 134.80,423.20 C135.43,426.10 135.80,428.53 136.20,431.00 C136.60,433.47 136.85,435.75 137.20,438.00 C137.55,440.25 137.70,441.80 138.30,444.50 C138.90,447.20 139.68,450.43 140.80,454.20 C141.92,457.97 143.68,463.40 145.00,467.10 C146.32,470.80 147.70,474.12 148.70,476.40 C149.70,478.68 149.97,479.52 151.00,480.80 C152.03,482.08 153.02,483.10 154.90,484.10 C156.78,485.10 159.82,486.23 162.30,486.80 C164.78,487.37 167.32,486.88 169.80,487.50 C172.28,488.12 174.83,489.25 177.20,490.50 C179.57,491.75 181.82,493.70 184.00,495.00 C186.18,496.30 187.92,497.13 190.30,498.30 C192.68,499.47 195.17,501.10 198.30,502.00 C201.43,502.90 202.82,503.23 209.10,503.70 C215.38,504.17 227.52,504.52 236.00,504.80 C244.48,505.08 251.00,505.23 260.00,505.40 C269.00,505.57 280.50,505.70 290.00,505.80 C299.50,505.90 312.50,505.97 317.00,506.00" stroke="#ff3434"/>
<path d="M31.60,475.30 C31.95,475.48 31.97,475.53 33.70,476.40 C35.43,477.27 39.22,479.27 42.00,480.50 C44.78,481.73 47.77,483.28 50.40,483.80 C53.03,484.32 55.30,483.92 57.80,483.60 C60.30,483.28 62.90,482.18 65.40,481.90 C67.90,481.62 70.33,481.78 72.80,481.90 C75.27,482.02 78.00,482.75 80.20,482.60 C82.40,482.45 84.62,481.53 86.00,481.00 C87.38,480.47 87.58,480.27 88.50,479.40 C89.42,478.53 90.52,477.45 91.50,475.80 C92.48,474.15 93.48,472.05 94.40,469.50 C95.32,466.95 96.23,463.75 97.00,460.50 C97.77,457.25 98.42,453.42 99.00,450.00 C99.58,446.58 99.97,443.67 100.50,440.00 C101.03,436.33 101.62,432.00 102.20,428.00 C102.78,424.00 103.37,420.27 104.00,416.00 C104.63,411.73 105.40,406.13 106.00,402.40 C106.60,398.67 107.00,396.53 107.60,393.60 C108.20,390.67 108.93,387.73 109.60,384.80 C110.27,381.87 110.95,378.43 111.60,376.00 C112.25,373.57 112.93,371.57 113.50,370.20 C114.07,368.83 114.52,368.30 115.00,367.80 C115.48,367.30 115.93,367.20 116.40,367.20 C116.87,367.20 117.27,367.25 117.80,367.80 C118.33,368.35 119.03,369.40 119.60,370.50 C120.17,371.60 120.73,372.82 121.20,374.40 C121.67,375.98 122.05,377.68 122.40,380.00 C122.75,382.32 122.95,386.30 123.30,388.30 C123.65,390.30 124.20,390.45 124.50,392.00 C124.80,393.55 124.80,395.53 125.10,397.60 C125.40,399.67 125.82,401.73 126.30,404.40 C126.78,407.07 127.52,411.00 128.00,413.60 C128.48,416.20 128.80,417.60 129.20,420.00 C129.60,422.40 130.00,425.47 130.40,428.00 C130.80,430.53 131.17,432.70 131.60,435.20 C132.03,437.70 132.38,439.98 133.00,443.00 C133.62,446.02 134.47,449.73 135.30,453.30 C136.13,456.87 137.08,461.32 138.00,464.40 C138.92,467.48 139.87,469.33 140.80,471.80 C141.73,474.27 142.37,476.73 143.60,479.20 C144.83,481.67 146.47,484.83 148.20,486.60 C149.93,488.37 151.65,488.70 154.00,489.80 C156.35,490.90 158.85,491.73 162.30,493.20 C165.75,494.67 170.75,497.17 174.70,498.60 C178.65,500.03 181.55,500.87 186.00,501.80 C190.45,502.73 193.07,503.53 201.40,504.20 C209.73,504.87 224.57,505.47 236.00,505.80 C247.43,506.13 256.50,506.10 270.00,506.20 C283.50,506.30 309.17,506.37 317.00,506.40" stroke="#ff3434" stroke-dasharray="3.5,3.2"/></g>
</svg>
</body></html>
